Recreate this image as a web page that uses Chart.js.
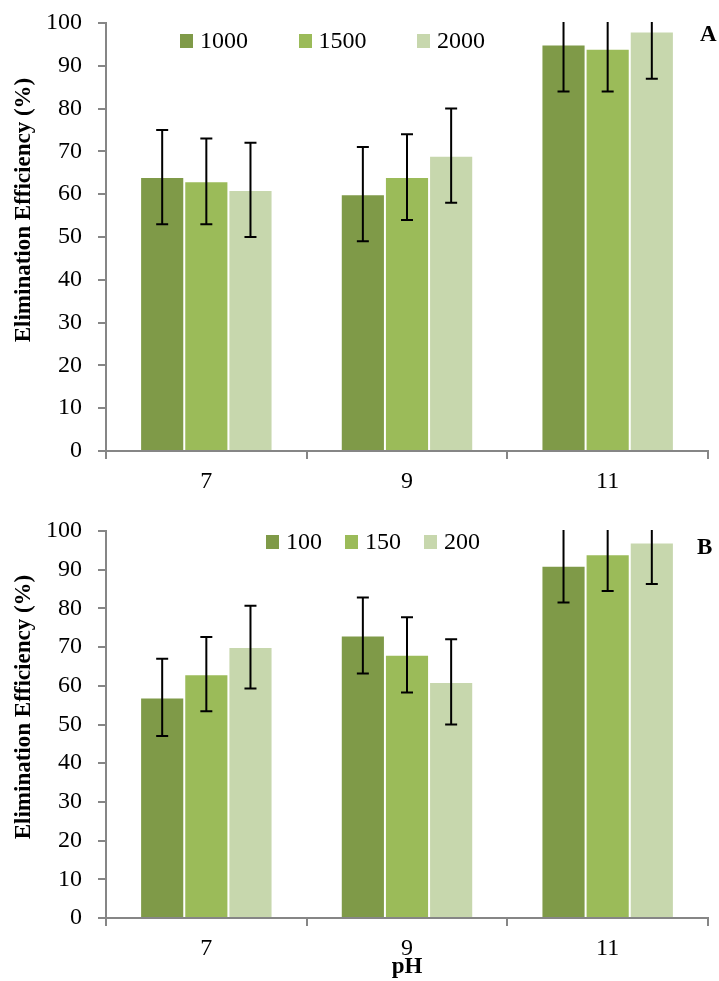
<!DOCTYPE html>
<html>
<head>
<meta charset="utf-8">
<script src="https://cdn.jsdelivr.net/npm/chart.js@4"></script>
<style>
  body { margin: 0; background: #fff; }
  #wrap { position: relative; width: 719px; height: 981px; background: #fff; overflow: hidden; }
  canvas { position: absolute; left: 0; }
  .legend { position: absolute; font-family: "Liberation Serif", serif; font-size: 24px; line-height: 28px; color: #000; white-space: nowrap; }
  .legend span.item { position: absolute; top: 0; }
  .legend i { display: inline-block; width: 13px; height: 14px; vertical-align: 0px; margin-right: 7px; }
  .tag { position: absolute; font-family: "Liberation Serif", serif; font-weight: bold; font-size: 23px; color: #000; }
  .ytitle { position: absolute; width: 320px; height: 28px; line-height: 28px; text-align: center;
            font-family: "Liberation Serif", serif; font-weight: bold; font-size: 23px; color: #000;
            transform: rotate(-90deg); white-space: nowrap; }
</style>
</head>
<body>
<div id="wrap">
  <canvas id="chartA" width="719" height="500" style="top:0;width:719px;height:500px"></canvas>
  <canvas id="chartB" width="719" height="481" style="top:500px;width:719px;height:481px"></canvas>
  <div class="ytitle" style="left:-137px;top:196px">Elimination Efficiency (%)</div>
  <div class="ytitle" style="left:-137px;top:693px">Elimination Efficiency (%)</div>
  <div class="legend" id="legA" style="left:180px;top:26px"></div>
  <div class="legend" id="legB" style="left:266px;top:527px"></div>
  <div class="tag" style="left:700px;top:21px">A</div>
  <div class="tag" style="left:697px;top:534px">B</div>
</div>
<script>
const phLabels = ["7", "9", "11"];
const colors = ["#7F9A48", "#9BBB59", "#C7D7AD"];

// chart A: dose 1000 / 1500 / 2000
const seriesA = ["1000", "1500", "2000"];
const a1000 = [64, 60, 95];
const a1500 = [63, 64, 94];
const a2000 = [61, 69, 98];
const errA1000 = [11, 11, 11];
const errA1500 = [10, 10, 10];
const errA2000 = [11, 11, 11];

// chart B: dose 100 / 150 / 200
const seriesB = ["100", "150", "200"];
const b100 = [57, 73, 91];
const b150 = [63, 68, 94];
const b200 = [70, 61, 97];
const errB100 = [10, 9.8, 9.5];
const errB150 = [9.6, 9.7, 9.5];
const errB200 = [10.7, 11, 10.7];

const yTicks = [0, 10, 20, 30, 40, 50, 60, 70, 80, 90, 100];

const errorBars = {
  id: "errorBars",
  afterDatasetsDraw(chart) {
    const ctx = chart.ctx;
    const area = chart.chartArea;
    const y = chart.scales.y;
    ctx.save();
    ctx.beginPath();
    ctx.rect(area.left, area.top - 1, area.right - area.left, area.bottom - area.top + 2);
    ctx.clip();
    ctx.strokeStyle = "#000";
    ctx.lineWidth = 2;
    chart.data.datasets.forEach((ds, i) => {
      const meta = chart.getDatasetMeta(i);
      meta.data.forEach((bar, j) => {
        const v = ds.data[j];
        const e = ds.errors[j];
        const top = y.getPixelForValue(v + e);
        const bot = y.getPixelForValue(v - e);
        ctx.beginPath();
        ctx.moveTo(bar.x, top);
        ctx.lineTo(bar.x, bot);
        ctx.moveTo(bar.x - 6, top);
        ctx.lineTo(bar.x + 6, top);
        ctx.moveTo(bar.x - 6, bot);
        ctx.lineTo(bar.x + 6, bot);
        ctx.stroke();
      });
    });
    ctx.restore();
  }
};

function makeSets(names, values, errs) {
  return names.map((n, i) => ({
    label: n,
    data: values[i],
    errors: errs[i],
    backgroundColor: colors[i],
    borderColor: "rgba(255,255,255,0.45)",
    borderWidth: 1,
    categoryPercentage: 0.66,
    barPercentage: 1.0
  }));
}

function makeChart(id, names, values, errs, padTop, xHeight, showPH) {
  const ctx = document.getElementById(id).getContext("2d");
  return new Chart(ctx, {
    type: "bar",
    data: { labels: phLabels, datasets: makeSets(names, values, errs) },
    options: {
      responsive: false,
      animation: false,
      layout: { padding: { top: padTop, right: 11, left: 0, bottom: 0 } },
      plugins: { legend: { display: false }, tooltip: { enabled: false } },
      scales: {
        x: {
          grid: { offset: true, drawOnChartArea: false, tickLength: 8, color: "#868686", lineWidth: 2 },
          border: { color: "#868686", width: 2 },
          ticks: { color: "#000", padding: 8, font: { family: "Liberation Serif", size: 24 } },
          title: {
            display: showPH, text: "pH", color: "#000", padding: 0,
            font: { family: "Liberation Serif", size: 23, weight: "bold" }
          },
          afterFit(scale) { scale.height = xHeight; }
        },
        y: {
          min: 0, max: 100,
          afterBuildTicks(scale) { scale.ticks = yTicks.map(v => ({ value: v })); },
          grid: { drawOnChartArea: false, tickLength: 8, color: "#868686", lineWidth: 2 },
          border: { color: "#868686", width: 2 },
          ticks: { color: "#000", padding: 16, font: { family: "Liberation Serif", size: 24 } },
          afterFit(scale) {
            scale.width = 106;
            scale.paddingTop = 0;
            scale.paddingBottom = 0;
          }
        }
      }
    },
    plugins: [errorBars]
  });
}

function buildLegend(id, names, step) {
  const el = document.getElementById(id);
  names.forEach((n, i) => {
    const s = document.createElement("span");
    s.className = "item";
    s.style.left = (i * step) + "px";
    s.innerHTML = '<i style="background:' + colors[i] + '"></i>' + n;
    el.appendChild(s);
  });
}

makeChart("chartA", seriesA, [a1000, a1500, a2000], [errA1000, errA1500, errA2000], 23, 49, false);
makeChart("chartB", seriesB, [b100, b150, b200], [errB100, errB150, errB200], 31, 63, true);
buildLegend("legA", seriesA, 118.5);
buildLegend("legB", seriesB, 79);
</script>
</body>
</html>
